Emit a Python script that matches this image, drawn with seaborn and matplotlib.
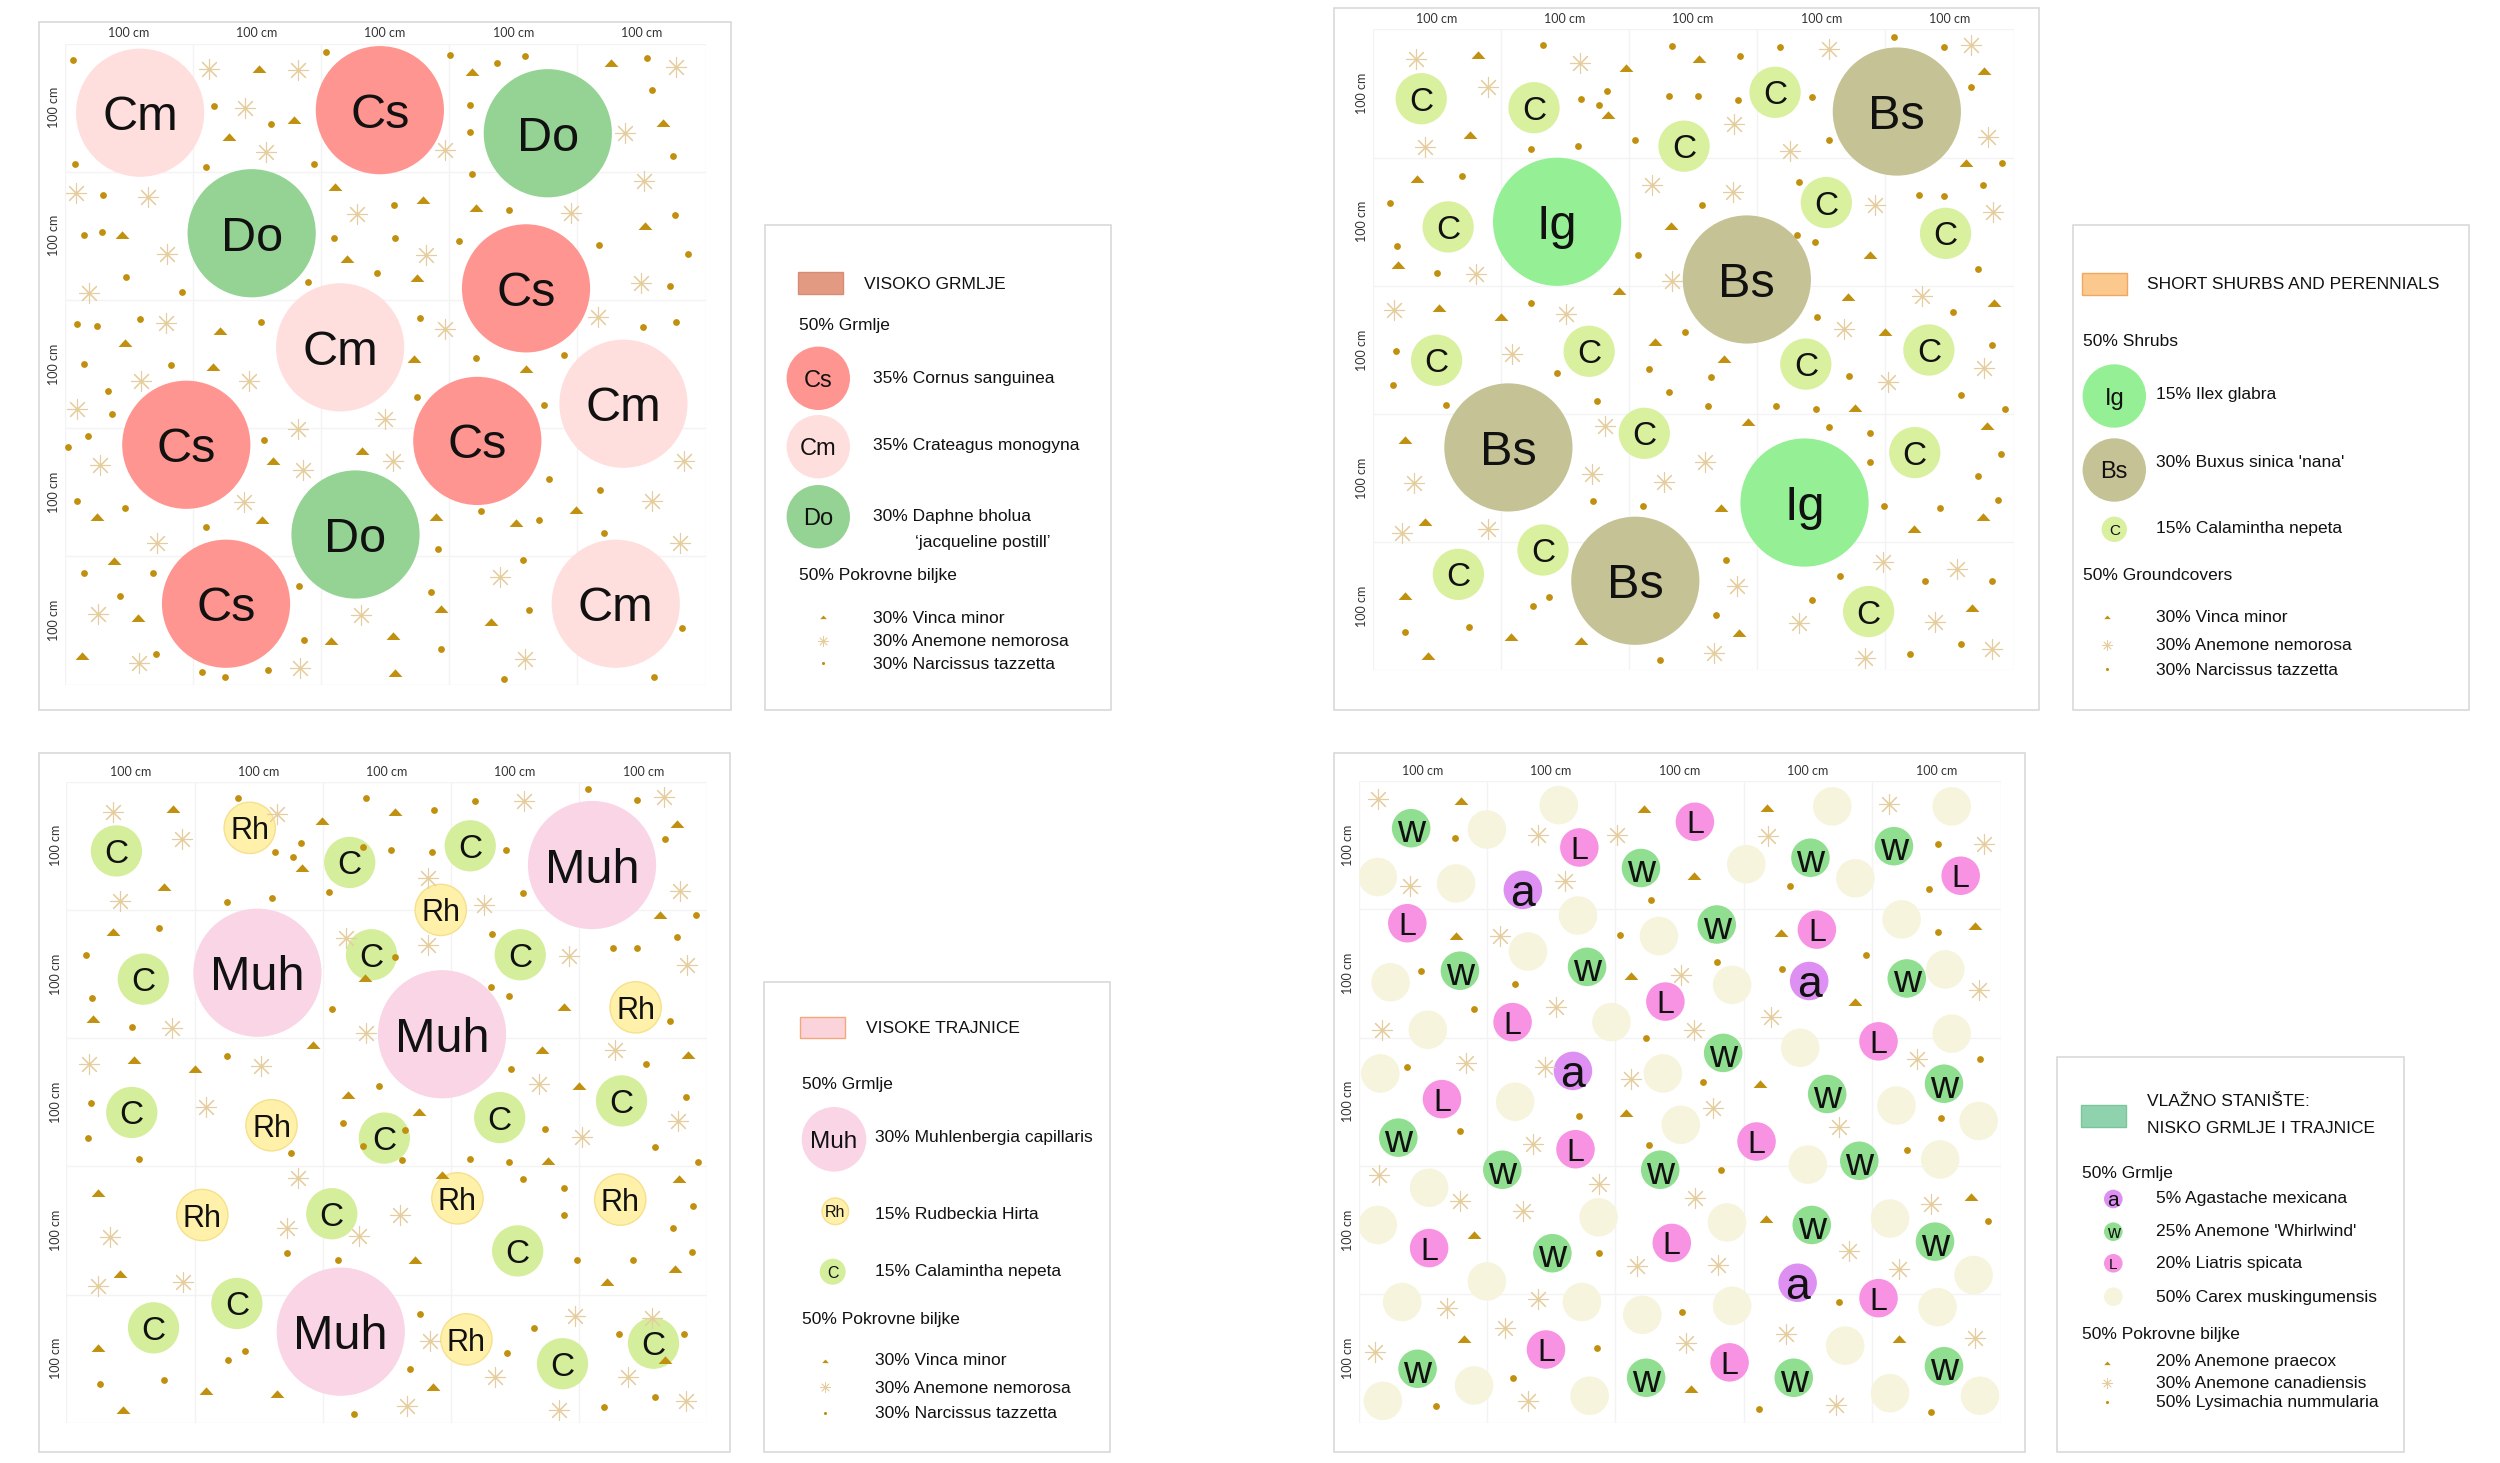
import matplotlib
matplotlib.use("Agg")
import matplotlib.pyplot as plt
from matplotlib.patches import Circle, Rectangle
import seaborn as sns

sns.set_theme(style="white")
plt.rcParams['font.family'] = ['Liberation Sans', 'DejaVu Sans']

# ---- planting positions, cm on a 500 x 500 cm plot (y counted from the top) ----
# top left: VISOKO GRMLJE
TL_CS = [(246, 52), (360, 191), (95, 313), (322, 310), (126, 437)]
TL_CM = [(59, 54), (215, 237), (436, 281), (430, 437)]
TL_DO = [(377, 70), (146, 148), (227, 383)]
TL_TRI = [(152, 20), (179, 60), (128, 73), (318, 22), (426, 15), (467, 62), (211, 112), (280, 122),
          (321, 128), (45, 149), (220, 168), (275, 183), (453, 142), (121, 224), (47, 234), (116, 252),
          (273, 246), (360, 254), (163, 326), (232, 318), (25, 369), (154, 372), (290, 369), (352, 374),
          (399, 364), (39, 404), (57, 448), (294, 441), (333, 451), (208, 466), (256, 462), (14, 478),
          (258, 491)]
TL_AST = [(113, 20), (182, 21), (141, 50), (157, 85), (297, 83), (437, 70), (477, 18), (9, 117),
          (65, 120), (228, 133), (395, 132), (452, 107), (80, 164), (282, 165), (19, 195), (450, 187),
          (79, 218), (297, 223), (416, 213), (60, 263), (144, 263), (10, 285), (182, 301), (250, 293),
          (28, 329), (186, 333), (256, 326), (483, 326), (140, 358), (458, 357), (72, 390), (480, 390),
          (340, 416), (26, 445), (231, 446), (58, 483), (184, 487), (359, 480)]
TL_DOT = [(7, 13), (8, 94), (117, 49), (161, 63), (110, 96), (195, 94), (204, 7), (301, 9), (337, 15),
          (359, 10), (316, 48), (316, 69), (458, 36), (454, 11), (475, 88), (318, 102), (30, 118),
          (15, 149), (29, 147), (48, 182), (92, 194), (190, 186), (210, 152), (257, 126), (258, 152),
          (244, 179), (308, 154), (347, 130), (417, 157), (476, 134), (486, 164), (472, 189), (10, 219),
          (25, 220), (59, 215), (153, 217), (277, 214), (390, 243), (321, 245), (451, 221), (477, 217),
          (15, 250), (34, 271), (83, 251), (37, 289), (275, 276), (374, 282), (3, 315), (18, 306),
          (156, 309), (378, 340), (418, 348), (325, 365), (370, 372), (10, 357), (47, 362), (110, 377),
          (291, 394), (421, 382), (358, 403), (15, 413), (43, 431), (69, 413), (183, 423), (286, 428),
          (362, 442), (482, 456), (187, 465), (294, 472), (71, 476), (107, 490), (125, 494), (159, 489),
          (343, 496), (460, 494)]

# top right: SHORT SHURBS AND PERENNIALS
TR_IG = [(144, 150), (337, 369)]
TR_BS = [(409, 64), (292, 195), (106, 326), (205, 430)]
TR_C = [(38, 54), (126, 61), (314, 49), (243, 91), (59, 154), (354, 135), (447, 159), (50, 258),
        (169, 251), (338, 261), (434, 250), (212, 315), (423, 330), (133, 406), (67, 425), (387, 454)]
TR_TRI = [(82, 20), (198, 30), (255, 23), (184, 67), (76, 82), (477, 32), (463, 104), (35, 117),
          (233, 153), (388, 176), (20, 184), (192, 204), (52, 217), (100, 224), (371, 209), (485, 213),
          (220, 244), (274, 257), (400, 236), (376, 295), (293, 306), (25, 320), (479, 309), (41, 384),
          (272, 373), (476, 380), (422, 390), (25, 442), (468, 451), (108, 474), (163, 477), (286, 471),
          (43, 489)]
TR_AST = [(34, 23), (90, 45), (162, 26), (41, 92), (356, 15), (467, 12), (282, 74), (326, 95),
          (480, 84), (218, 121), (281, 127), (392, 137), (484, 142), (81, 191), (234, 196), (17, 219),
          (151, 222), (109, 253), (429, 208), (368, 234), (477, 264), (402, 275), (181, 309), (32, 354),
          (171, 347), (227, 353), (259, 337), (23, 393), (90, 390), (284, 434), (398, 415), (456, 421),
          (333, 463), (439, 462), (266, 486), (384, 490), (483, 483)]
TR_DOT = [(133, 12), (234, 13), (318, 14), (407, 6), (446, 14), (163, 54), (183, 48), (177, 59),
          (231, 52), (254, 52), (287, 21), (285, 55), (343, 53), (467, 45), (124, 93), (160, 91),
          (205, 86), (356, 86), (491, 104), (70, 114), (14, 135), (19, 169), (50, 190), (257, 137),
          (333, 119), (331, 160), (345, 166), (476, 121), (426, 129), (446, 130), (472, 187), (207, 176),
          (124, 213), (244, 236), (347, 224), (453, 220), (18, 251), (16, 277), (144, 268), (216, 265),
          (264, 271), (231, 283), (372, 270), (483, 246), (459, 285), (57, 293), (175, 290), (262, 294),
          (315, 294), (346, 296), (493, 296), (356, 310), (388, 315), (388, 337), (490, 331), (472, 348),
          (172, 368), (211, 372), (399, 372), (443, 373), (488, 367), (276, 414), (365, 426), (431, 430),
          (483, 430), (138, 443), (125, 450), (75, 466), (25, 470), (268, 457), (343, 445), (459, 479),
          (419, 487), (224, 492)]

# bottom left: VISOKE TRAJNICE
BL_MUH = [(410, 65), (149, 149), (293, 197), (214, 429)]
BL_RH = [(143, 36), (292, 100), (444, 176), (160, 268), (106, 338), (305, 325), (432, 326), (312, 435)]
BL_C = [(39, 54), (221, 63), (315, 50), (60, 154), (238, 135), (354, 135), (51, 258), (248, 278),
        (338, 262), (433, 249), (207, 337), (352, 366), (133, 407), (68, 426), (387, 454), (458, 438)]
BL_TRI = [(83, 21), (199, 31), (256, 24), (184, 67), (76, 82), (36, 117), (476, 33), (463, 104),
          (21, 185), (233, 153), (192, 205), (388, 176), (53, 217), (100, 224), (220, 244), (275, 258),
          (371, 209), (400, 237), (485, 213), (376, 296), (293, 307), (478, 310), (25, 321), (272, 373),
          (42, 384), (422, 390), (475, 380), (25, 442), (109, 475), (164, 478), (286, 472), (44, 490),
          (467, 451)]
BL_AST = [(36, 24), (90, 45), (164, 25), (42, 93), (282, 75), (326, 96), (357, 15), (466, 12),
          (479, 85), (218, 122), (282, 127), (392, 136), (484, 143), (82, 192), (234, 196), (428, 209),
          (18, 220), (152, 222), (109, 254), (369, 236), (402, 277), (477, 265), (181, 309), (260, 338),
          (172, 348), (34, 355), (228, 354), (25, 393), (91, 390), (284, 436), (397, 417), (334, 464),
          (438, 464), (457, 418), (266, 487), (384, 490), (483, 483)]
BL_DOT = [(134, 13), (234, 13), (287, 22), (319, 15), (407, 6), (445, 14), (163, 55), (183, 48),
          (177, 59), (231, 51), (253, 53), (285, 55), (343, 53), (467, 45), (125, 94), (160, 91),
          (205, 86), (356, 87), (491, 104), (72, 114), (15, 135), (20, 169), (51, 191), (256, 137),
          (332, 119), (331, 160), (345, 167), (476, 121), (426, 130), (445, 130), (471, 187), (207, 177),
          (125, 214), (244, 237), (347, 224), (452, 220), (19, 251), (17, 278), (57, 294), (175, 290),
          (216, 266), (264, 272), (231, 284), (262, 295), (373, 271), (483, 246), (459, 285), (315, 294),
          (345, 297), (493, 297), (356, 310), (388, 317), (388, 338), (489, 331), (473, 348), (172, 368),
          (212, 373), (398, 373), (442, 373), (488, 367), (276, 415), (365, 426), (431, 431), (482, 431),
          (139, 444), (126, 451), (76, 467), (26, 470), (268, 458), (344, 446), (459, 480), (419, 488),
          (224, 493)]

# bottom right: VLAZNO STANISTE
BR_A = [(128, 85), (351, 156), (167, 226), (342, 391)]
BR_W = [(41, 37), (220, 68), (352, 60), (417, 51), (279, 112), (79, 148), (178, 145), (427, 154),
        (284, 212), (365, 244), (456, 236), (31, 278), (112, 303), (235, 303), (390, 296), (353, 346),
        (449, 359), (151, 368), (46, 458), (224, 465), (339, 465), (456, 456)]
BR_L = [(172, 52), (262, 32), (469, 74), (38, 111), (357, 116), (120, 188), (239, 172), (405, 203),
        (65, 248), (169, 287), (310, 281), (55, 364), (244, 360), (405, 403), (146, 443), (289, 453)]
BR_CAREX = [(100, 38), (156, 19), (15, 75), (76, 80), (302, 65), (369, 20), (387, 76), (462, 20),
            (171, 105), (234, 121), (132, 133), (25, 157), (291, 159), (423, 108), (457, 147), (54, 194),
            (197, 188), (344, 208), (462, 197), (17, 228), (237, 228), (122, 250), (251, 268), (419, 253),
            (483, 265), (350, 299), (453, 295), (55, 317), (15, 346), (187, 340), (287, 344), (414, 341),
            (100, 390), (479, 385), (34, 406), (174, 406), (221, 416), (291, 409), (379, 440), (451, 410),
            (19, 483), (90, 471), (180, 479), (414, 477), (484, 479)]
BR_TRI = [(80, 16), (222, 22), (318, 21), (261, 74), (76, 121), (212, 152), (329, 119), (387, 172),
          (480, 113), (313, 236), (208, 259), (317, 341), (90, 354), (477, 324), (82, 435), (259, 474),
          (421, 435)]
BR_AST = [(15, 14), (140, 42), (201, 42), (319, 43), (413, 18), (487, 49), (40, 82), (161, 78),
          (110, 121), (251, 151), (154, 176), (18, 194), (261, 194), (321, 184), (483, 163), (84, 220),
          (145, 223), (212, 232), (276, 255), (435, 217), (374, 270), (136, 283), (187, 314), (16, 307),
          (79, 327), (128, 335), (262, 325), (446, 330), (382, 366), (217, 378), (280, 377), (421, 380),
          (69, 411), (140, 404), (114, 426), (255, 438), (333, 431), (13, 445), (480, 434), (132, 483),
          (372, 486)]
BR_DOT = [(75, 45), (336, 82), (451, 49), (444, 84), (228, 93), (49, 148), (90, 178), (122, 158),
          (204, 120), (279, 141), (330, 147), (395, 136), (451, 118), (224, 200), (38, 223), (268, 235),
          (484, 217), (172, 261), (79, 273), (226, 284), (454, 263), (427, 288), (282, 303), (490, 343),
          (187, 368), (374, 406), (252, 414), (186, 442), (120, 465), (60, 487), (312, 489), (446, 492)]

GRID_TICKS = [50, 150, 250, 350, 450]
GRID_LABEL = "100 cm"

GOLD = "#c0900e"
TAN = "#e6cd9e"
TRI = [(-1, -0.5), (1, -0.5), (0, 0.6)]

W, H = 2500, 1463
fig = plt.figure(figsize=(25, 14.63), dpi=100)

bg = fig.add_axes([0, 0, 1, 1])
bg.set_xlim(0, W)
bg.set_ylim(H, 0)
bg.axis("off")
bg.set_zorder(0)


def frame(x0, y0, x1, y1):
    bg.add_patch(Rectangle((x0, y0), x1 - x0, y1 - y0, fill=False, ec="#d9d9d9", lw=1.2))


def xy(pts):
    return [p[0] for p in pts], [p[1] for p in pts]


def ground(ax, tri, ast, dot, s_tri=100, s_ast=210, s_dot=24, lw_ast=0.8):
    x, y = xy(ast)
    sns.scatterplot(x=x, y=y, ax=ax, marker=(8, 2, 0), s=s_ast, color=TAN, linewidth=lw_ast,
                    zorder=3, legend=False, clip_on=False)
    x, y = xy(tri)
    sns.scatterplot(x=x, y=y, ax=ax, marker=TRI, s=s_tri, color=GOLD, linewidth=0,
                    zorder=3, legend=False, clip_on=False)
    x, y = xy(dot)
    sns.scatterplot(x=x, y=y, ax=ax, marker="o", s=s_dot, color=GOLD, linewidth=0,
                    zorder=3, legend=False, clip_on=False)


def plants(ax, pts, r, color, label, fs, ec=None):
    for cx, cy in pts:
        ax.add_patch(Circle((cx, cy), r, fc=color, ec=ec if ec else "none", lw=1, zorder=2))
        ax.text(cx, cy, label, fontsize=fs, ha="center", va="center_baseline", color="#111111", zorder=4)


def panel(left, top, size):
    ax = fig.add_axes([left / W, 1 - (top + size) / H, size / W, size / H])
    ax.set_zorder(1)
    ax.set_facecolor("none")
    ax.set_xlim(0, 500)
    ax.set_ylim(500, 0)
    for s in ax.spines.values():
        s.set_visible(False)
    for v in range(0, 501, 100):
        ax.axvline(v, color="#f3f3f3", lw=1, zorder=0)
        ax.axhline(v, color="#f3f3f3", lw=1, zorder=0)
    ax.xaxis.tick_top()
    ax.set_xticks(GRID_TICKS)
    ax.set_xticklabels([GRID_LABEL] * 5)
    ax.set_yticks(GRID_TICKS)
    ax.set_yticklabels([GRID_LABEL] * 5, rotation=90, va="center")
    ax.tick_params(length=0, labelsize=9, labelcolor="#333333", pad=3)
    for lab in ax.get_xticklabels() + ax.get_yticklabels():
        lab.set_fontfamily("Lato")
    return ax


def txt(x, y, s, fs=12.5, **kw):
    bg.text(x, y, s, fontsize=fs, ha="left", va="center_baseline", color="#111111", **kw)


def leg_circle(x, y, r, color, label, fs, ec=None):
    bg.add_patch(Circle((x, y), r, fc=color, ec=ec if ec else "none", lw=1, zorder=2))
    bg.text(x, y, label, fontsize=fs, ha="center", va="center_baseline", color="#111111", zorder=3)


def leg_ground(x, ys):
    sns.scatterplot(x=[x], y=[ys[0]], ax=bg, marker=TRI, s=22, color=GOLD, linewidth=0, legend=False)
    sns.scatterplot(x=[x], y=[ys[1]], ax=bg, marker=(8, 2, 0), s=50, color=TAN, linewidth=0.6, legend=False)
    sns.scatterplot(x=[x], y=[ys[2]], ax=bg, marker="o", s=5, color=GOLD, linewidth=0, legend=False)


# ---- panel frames and legend frames ----
frame(38.5, 21.7, 730.7, 710)
frame(1333.5, 8, 2039, 710)
frame(38.5, 752.7, 729.5, 1452)
frame(1333.5, 752.5, 2025, 1452)
frame(765.3, 224.5, 1111, 710)
frame(2072.7, 224.5, 2469.3, 710)
frame(764, 981.7, 1109.5, 1452)
frame(2057.3, 1056.7, 2404, 1452)

# ---- top left ----
ax = panel(64.5, 43.5, 641)
plants(ax, TL_CS, 50, "#ff9591", "Cs", 35)
plants(ax, TL_CM, 50, "#ffdede", "Cm", 35)
plants(ax, TL_DO, 50, "#95d395", "Do", 35)
ground(ax, TL_TRI, TL_AST, TL_DOT)

bg.add_patch(Rectangle((797.7, 272), 45, 22, fc="#e39a82", ec="#d98c74", lw=1))
txt(864, 282.7, "VISOKO GRMLJE")
txt(799, 324, "50% Grmlje")
leg_circle(818.3, 378.3, 31.7, "#ff9591", "Cs", 17)
txt(872.7, 376.7, "35% Cornus sanguinea")
leg_circle(818.3, 446.7, 31.7, "#ffdede", "Cm", 17)
txt(872.7, 444.3, "35% Crateagus monogyna")
leg_circle(818.3, 516.7, 31.7, "#95d395", "Do", 17)
txt(872.7, 515, "30% Daphne bholua")
txt(915, 541, "\u2018jacqueline postill\u2019")
txt(799, 574.3, "50% Pokrovne biljke")
leg_ground(822.7, [617.3, 640.7, 663.3])
txt(872.7, 616.7, "30% Vinca minor")
txt(872.7, 640, "30% Anemone nemorosa")
txt(872.7, 662.7, "30% Narcissus tazzetta")

# ---- top right ----
ax = panel(1372.5, 29.5, 641)
plants(ax, TR_IG, 50, "#95ef95", "Ig", 35)
plants(ax, TR_BS, 50, "#c5c395", "Bs", 35)
plants(ax, TR_C, 20, "#d9f09f", "C", 24)
ground(ax, TR_TRI, TR_AST, TR_DOT)

bg.add_patch(Rectangle((2081.7, 272.7), 45.6, 22.3, fc="#fbc98e", ec="#f0a860", lw=1))
txt(2147.3, 283.3, "SHORT SHURBS AND PERENNIALS")
txt(2083.3, 340, "50% Shrubs")
leg_circle(2114.3, 396, 31.7, "#95ef95", "Ig", 17)
txt(2156, 392.7, "15% Ilex glabra")
leg_circle(2114.3, 470, 31.7, "#c5c395", "Bs", 17)
txt(2156, 460.7, "30% Buxus sinica 'nana'")
leg_circle(2114.3, 529.3, 12.7, "#d9f09f", "C", 11)
txt(2156, 527.3, "15% Calamintha nepeta")
txt(2083.3, 574.3, "50% Groundcovers")
leg_ground(2106.7, [617.3, 645, 669.3])
txt(2156, 616, "30% Vinca minor")
txt(2156, 644, "30% Anemone nemorosa")
txt(2156, 668.7, "30% Narcissus tazzetta")

# ---- bottom left ----
ax = panel(66.4, 781.7, 641)
plants(ax, BL_MUH, 50, "#f9d5e5", "Muh", 35)
plants(ax, BL_RH, 20, "#fff0aa", "Rh", 22, ec="#f6e08c")
plants(ax, BL_C, 20, "#d4ee9b", "C", 24)
ground(ax, BL_TRI, BL_AST, BL_DOT)

bg.add_patch(Rectangle((800, 1016.7), 45, 21.6, fc="#fbd3da", ec="#f4a67c", lw=1))
txt(866, 1026.7, "VISOKE TRAJNICE")
txt(801.7, 1083.3, "50% Grmlje")
leg_circle(834, 1139.3, 32.3, "#f9d5e5", "Muh", 17.5)
txt(875, 1135.7, "30% Muhlenbergia capillaris")
leg_circle(835.3, 1211.3, 13.3, "#fff0aa", "Rh", 11.5, ec="#f6e08c")
txt(875, 1212.7, "15% Rudbeckia Hirta")
leg_circle(832.7, 1271.7, 13, "#d4ee9b", "C", 11.5)
txt(875, 1270, "15% Calamintha nepeta")
txt(801.7, 1317.7, "50% Pokrovne biljke")
leg_ground(825, [1360.7, 1387.3, 1413.3])
txt(875, 1359.3, "30% Vinca minor")
txt(875, 1386.7, "30% Anemone nemorosa")
txt(875, 1412.3, "30% Narcissus tazzetta")

# ---- bottom right ----
ax = panel(1358.5, 780.7, 642)
plants(ax, BR_CAREX, 15, "#f6f4dc", "", 10)
plants(ax, BR_A, 15, "#dd90f2", "a", 32)
plants(ax, BR_W, 15, "#90de90", "w", 28)
plants(ax, BR_L, 15, "#f893e3", "L", 23)
ground(ax, BR_TRI, BR_AST, BR_DOT)

bg.add_patch(Rectangle((2081, 1105), 45, 21.7, fc="#8fd3ae", ec="#7cc49c", lw=1))
txt(2146.7, 1100, "VLA\u017dNO STANI\u0160TE:")
txt(2146.7, 1127.3, "NISKO GRMLJE I TRAJNICE")
txt(2082.3, 1172.3, "50% Grmlje")
leg_circle(2113.3, 1199, 9.3, "#dd90f2", "a", 15)
txt(2156, 1196.7, "5% Agastache mexicana")
leg_circle(2113.3, 1231.7, 9.3, "#90de90", "w", 13)
txt(2156, 1230, "25% Anemone 'Whirlwind'")
leg_circle(2113.3, 1263.3, 9.3, "#f893e3", "L", 11)
txt(2156, 1262.3, "20% Liatris spicata")
leg_circle(2113.3, 1296.7, 9.3, "#f6f4dc", "", 10)
txt(2156, 1296, "50% Carex muskingumensis")
txt(2082.3, 1332.7, "50% Pokrovne biljke")
leg_ground(2106.7, [1362.7, 1382.7, 1401.7])
txt(2156, 1360, "20% Anemone praecox")
txt(2156, 1381.7, "30% Anemone canadiensis")
txt(2156, 1401, "50% Lysimachia nummularia")

fig.savefig("out.png", dpi=100, facecolor="white")
